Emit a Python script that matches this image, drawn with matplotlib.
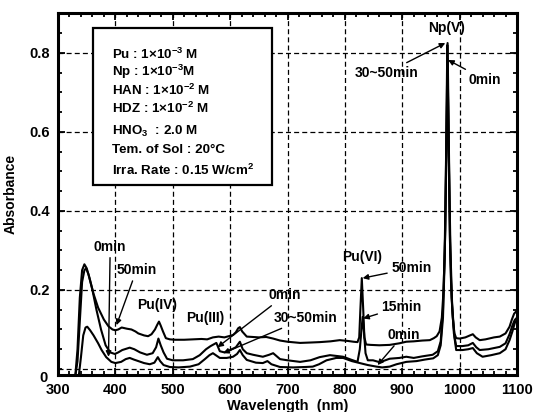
import numpy as np
import matplotlib
matplotlib.use('Agg')
import matplotlib.pyplot as plt
from matplotlib.ticker import MultipleLocator
from matplotlib.patches import Rectangle

plt.rcParams['font.family'] = ['Liberation Sans', 'DejaVu Sans']
plt.rcParams['font.weight'] = 'bold'
plt.rcParams['axes.labelweight'] = 'bold'
plt.rcParams['mathtext.fontset'] = 'custom'
plt.rcParams['mathtext.rm'] = 'Liberation Sans:bold'
plt.rcParams['mathtext.it'] = 'Liberation Sans:bold'
plt.rcParams['mathtext.bf'] = 'Liberation Sans:bold'

# absorption spectra (wavelength nm, absorbance) after 0, 15 and 50 min irradiation
spec_50min = [
    (330, -0.02), (334, 0.05), (338, 0.18), (342, 0.25), (346, 0.265), (350, 0.255),
    (355, 0.23), (362, 0.19), (370, 0.155), (380, 0.125), (388, 0.108), (395, 0.10),
    (400, 0.098), (405, 0.10), (411, 0.105), (420, 0.102), (428, 0.10), (435, 0.095),
    (440, 0.09), (450, 0.085), (457, 0.083), (463, 0.088), (469, 0.10), (473, 0.112),
    (476, 0.12), (479, 0.11), (483, 0.095), (488, 0.078), (495, 0.075), (504, 0.074),
    (520, 0.074), (535, 0.075), (550, 0.076), (560, 0.075), (570, 0.08), (580, 0.082),
    (590, 0.08), (600, 0.084), (605, 0.086), (610, 0.093), (614, 0.103), (617, 0.106),
    (621, 0.095), (629, 0.082), (640, 0.081), (650, 0.08), (663, 0.081), (675, 0.077),
    (687, 0.072), (700, 0.069), (722, 0.066), (740, 0.067), (756, 0.068), (775, 0.07),
    (791, 0.073), (805, 0.071), (815, 0.069), (822, 0.068), (825, 0.08), (827, 0.15),
    (829.5, 0.23), (832, 0.15), (834, 0.08), (837, 0.062), (845, 0.061), (860, 0.06),
    (878, 0.061), (895, 0.065), (907, 0.069), (920, 0.07), (935, 0.072), (948, 0.073),
    (955, 0.078), (960, 0.083), (965, 0.095), (969, 0.13), (972, 0.2), (975, 0.35),
    (977, 0.6), (979, 0.825), (981, 0.6), (983, 0.35), (985, 0.22), (988, 0.13),
    (991, 0.09), (994, 0.078), (1000, 0.077), (1010, 0.08), (1018, 0.085), (1023, 0.088),
    (1028, 0.08), (1035, 0.073), (1045, 0.075), (1060, 0.08), (1070, 0.082), (1080, 0.09),
    (1087, 0.107), (1091, 0.125), (1095, 0.14), (1100, 0.148),
]
spec_15min = [
    (330, -0.02), (334, 0.02), (338, 0.12), (342, 0.22), (346, 0.25), (349, 0.255),
    (353, 0.24), (360, 0.2), (367, 0.15), (375, 0.1), (383, 0.06), (391, 0.042),
    (399, 0.038), (405, 0.042), (412, 0.048), (425, 0.054), (433, 0.05), (443, 0.042),
    (455, 0.036), (465, 0.04), (471, 0.055), (475, 0.077), (479, 0.06), (484, 0.042),
    (490, 0.026), (500, 0.022), (518, 0.022), (535, 0.025), (547, 0.035), (558, 0.05),
    (566, 0.058), (576, 0.066), (582, 0.045), (590, 0.042), (600, 0.048), (610, 0.055),
    (617, 0.069), (622, 0.05), (629, 0.04), (640, 0.036), (657, 0.031), (668, 0.036),
    (675, 0.04), (687, 0.025), (700, 0.022), (722, 0.018), (740, 0.022), (756, 0.03),
    (774, 0.035), (797, 0.031), (810, 0.024), (822, 0.018), (826, 0.05), (829, 0.1),
    (831, 0.132), (833, 0.1), (836, 0.04), (840, 0.022), (849, 0.022), (861, 0.017),
    (878, 0.026), (895, 0.028), (907, 0.031), (920, 0.028), (935, 0.032), (953, 0.036),
    (962, 0.045), (967, 0.07), (971, 0.15), (974, 0.3), (976.5, 0.55), (978.5, 0.82),
    (980.5, 0.6), (983, 0.33), (986, 0.18), (990, 0.09), (994, 0.058), (1005, 0.058),
    (1015, 0.06), (1023, 0.066), (1029, 0.055), (1035, 0.048), (1050, 0.05), (1070, 0.056),
    (1080, 0.065), (1087, 0.088), (1092, 0.11), (1096, 0.124), (1100, 0.13),
]
spec_0min = [
    (336, -0.02), (340, 0.03), (344, 0.085), (348, 0.105), (351, 0.107), (356, 0.098),
    (362, 0.085), (370, 0.065), (376, 0.048), (384, 0.03), (393, 0.018), (400, 0.015),
    (410, 0.018), (418, 0.025), (425, 0.028), (432, 0.024), (440, 0.02), (450, 0.015),
    (460, 0.012), (468, 0.016), (474, 0.03), (478, 0.02), (484, 0.01), (495, 0.005),
    (510, 0.004), (530, 0.006), (545, 0.012), (556, 0.025), (564, 0.035), (570, 0.04),
    (576, 0.034), (582, 0.028), (594, 0.028), (605, 0.031), (612, 0.038), (617, 0.048),
    (622, 0.035), (629, 0.023), (645, 0.016), (657, 0.015), (665, 0.02), (672, 0.012),
    (687, 0.005), (710, 0.004), (730, 0.005), (744, 0.006), (755, 0.012), (768, 0.022),
    (785, 0.028), (797, 0.028), (812, 0.02), (826, 0.015), (840, 0.01), (855, 0.006),
    (865, 0.004), (878, 0.006), (890, 0.012), (907, 0.018), (925, 0.02), (940, 0.024),
    (954, 0.027), (962, 0.035), (967, 0.06), (971, 0.13), (974, 0.28), (977, 0.55),
    (979, 0.785), (981, 0.56), (984, 0.3), (987, 0.16), (991, 0.08), (994, 0.048),
    (1005, 0.048), (1015, 0.05), (1023, 0.053), (1030, 0.04), (1040, 0.031), (1055, 0.035),
    (1070, 0.04), (1080, 0.05), (1087, 0.073), (1092, 0.095), (1096, 0.116), (1100, 0.125),
]

conditions = [
    'Pu : 1\u00d710$^{-3}$ M',
    'Np : 1\u00d710$^{-3}$M',
    'HAN : 1\u00d710$^{-2}$ M',
    'HDZ : 1\u00d710$^{-2}$ M',
    'HNO$_{3}$  : 2.0 M',
    'Tem. of Sol : 20\u00b0C',
    'Irra. Rate : 0.15 W/cm$^{2}$',
]
cond_y = [0.886, 0.836, 0.786, 0.736, 0.674, 0.622, 0.566]

# (text, text position, arrow target or None)
notes = [
    ('0min', (391, 0.31), (388, 0.031)),
    ('50min', (437, 0.251), (402, 0.111)),
    ('Pu(IV)', (472, 0.162), None),
    ('Pu(III)', (556, 0.128), None),
    ('0min', (696, 0.187), (578, 0.055)),
    ('30~50min', (732, 0.129), (588, 0.04)),
    ('Pu(VI)', (830, 0.284), None),
    ('50min', (916, 0.255), (831, 0.23)),
    ('15min', (899, 0.158), (832, 0.128)),
    ('0min', (902, 0.086), (857, 0.01)),
    ('Np(V)', (977, 0.862), None),
    ('30~50min', (872, 0.749), (975, 0.825)),
    ('0min', (1044, 0.732), (980, 0.782)),
]

fig = plt.figure(figsize=(5.33, 4.12), dpi=100)
ax = fig.add_axes([58 / 533, 1 - 375 / 412, 459 / 533, 362 / 412])

for spec in (spec_0min, spec_15min, spec_50min):
    wl, ab = np.array(spec).T
    ax.plot(wl, ab, color='black', lw=1.5, solid_joinstyle='round')

ax.set_xlim(300, 1100)
ax.set_ylim(-0.0152, 0.901)
ax.set_xticks(np.arange(300, 1101, 100))
ax.set_yticks([0.2, 0.4, 0.6, 0.8])
ax.set_yticklabels(['0.2', '0.4', '0.6', '0.8'])
ax.xaxis.set_minor_locator(MultipleLocator(20))
ax.yaxis.set_minor_locator(MultipleLocator(0.05))
ax.tick_params(which='both', direction='in', top=True, right=True, width=1.3,
               labelsize=10.5)
ax.tick_params(which='major', length=5, pad=6)
ax.tick_params(which='minor', length=3)
for sp in ax.spines.values():
    sp.set_linewidth(2.2)

# dashed grid, zero line included
for x in range(400, 1001, 100):
    ax.axvline(x, color='black', lw=0.9, ls=(0, (4, 2.5)), zorder=0.5)
for y in [0, 0.2, 0.4, 0.6, 0.8]:
    ax.axhline(y, color='black', lw=0.9, ls=(0, (4, 2.5)), zorder=0.5)

# the zero label sits a little below its line
ax.annotate('0', xy=(0, 0), xycoords=('axes fraction', 'data'), xytext=(-10, -9),
            textcoords='offset pixels', ha='right', va='center', fontsize=10.5)

ax.set_xlabel('Wavelength  (nm)', fontsize=10.5, labelpad=1)
ax.set_ylabel('Absorbance', fontsize=10, labelpad=8)

# experimental conditions box
ax.add_patch(Rectangle((0.077, 0.525), 0.389, 0.433, transform=ax.transAxes,
                       facecolor='white', edgecolor='black', lw=1.6, zorder=3))
for txt, y in zip(conditions, cond_y):
    ax.text(0.117, y, txt, transform=ax.transAxes, fontsize=9.6, va='center',
            ha='left', zorder=4)

for txt, pos, target in notes:
    if target is None:
        ax.text(pos[0], pos[1], txt, fontsize=10, ha='center', va='center', zorder=4)
    else:
        ax.annotate(txt, xy=target, xytext=pos, fontsize=10, ha='center',
                    va='center', zorder=4,
                    arrowprops=dict(arrowstyle='-|>', color='black', lw=1.0,
                                    mutation_scale=8, shrinkA=1, shrinkB=0))

fig.savefig('out.png', dpi=100)
